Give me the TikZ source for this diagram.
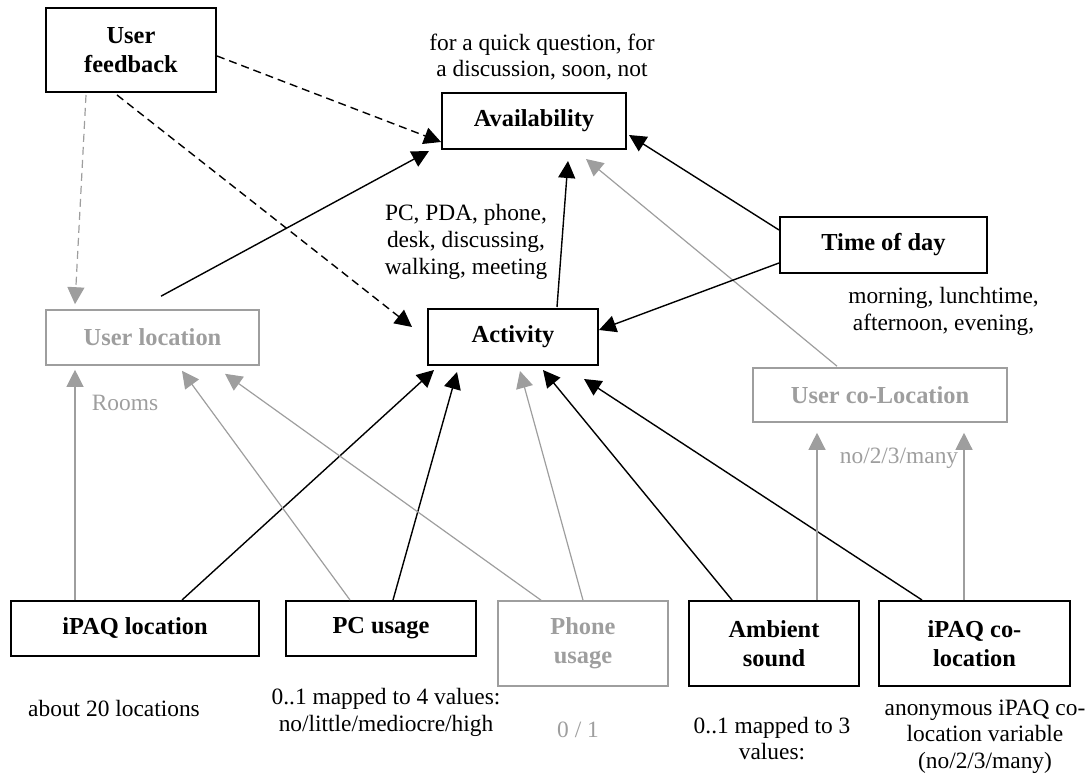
\documentclass[tikz,border=0pt]{standalone}
\usepackage{fontspec}
\setmainfont{Liberation Serif}
\usetikzlibrary{arrows.meta,calc}
\definecolor{lgray}{RGB}{158,158,158}
\tikzset{
  var/.style={draw, line width=1pt, inner sep=0pt, align=center,
    font=\bfseries\fontsize{12.2}{14.5}\selectfont},
  hidvar/.style={var, draw=lgray, text=lgray, line width=0.8pt},
  vals/.style={align=center, inner sep=0pt, font=\fontsize{11.7}{13.3}\selectfont},
  dep/.style={-{Triangle[length=8.5pt,width=8.5pt]}, line width=0.7pt},
  hiddep/.style={dep, draw=lgray, line width=0.6pt},
  fbdep/.style={dash pattern=on 4pt off 2.5pt}
}
\begin{document}
\begin{tikzpicture}[x=0.5pt,y=-0.5pt]
\useasboundingbox (0,0) rectangle (1090,774);

% variables
\node[var, minimum width=85pt, minimum height=42pt] (fb) at (131,50) {User\\feedback};
\node[var, minimum width=92pt, minimum height=28pt] (avail) at (534,121) {Availability};
\node[var, minimum width=103.5pt, minimum height=28pt] (tod) at (883.5,245) {Time of day};
\node[var, minimum width=85pt, minimum height=28pt] (act) at (513,337) {Activity};
\node[hidvar, minimum width=106.5pt, minimum height=27.5pt] (uloc) at (152.5,337.5) {User location};
\node[hidvar, minimum width=127pt, minimum height=27pt] (ucol) at (880,395) {User co-Location};
\node[var, minimum width=124pt, minimum height=27.5pt] (ipaq) at (135,628.5) {iPAQ location};
\node[var, minimum width=95pt, minimum height=27.5pt] (pc) at (381,628.5) {PC usage};
\node[hidvar, minimum width=85pt, minimum height=42.5pt] (phone) at (583,643.5) {Phone\\usage};
\node[var, minimum width=85pt, minimum height=42.5pt] (amb) at (774,643.5) {Ambient\\sound};
\node[var, minimum width=95.5pt, minimum height=42.5pt] (ico) at (974.5,643.5) {iPAQ co-\\location};

% value ranges
\node[vals] (availv) at (542,57) {for a quick question, for\\a discussion, soon, not};
\node[vals] (actv) at (466,242) {PC, PDA, phone,\\desk, discussing,\\walking, meeting};
\node[vals] (todv) at (943.5,311.5) {morning, lunchtime,\\afternoon, evening,};
\node[vals, text=lgray] (ulocv) at (125,403) {Rooms};
\node[vals, text=lgray] (ucolv) at (899,458) {no/2/3/many};
\node[vals] (ipaqv) at (114,708) {about 20 locations};
\node[vals] (pcv) at (386,712.5) {0..1 mapped to 4 values:\\no/little/mediocre/high};
\node[vals, text=lgray] (phonev) at (578,730) {0 / 1};
\node[vals] (ambv) at (772,738.5) {0..1 mapped to 3\\values:};
\node[vals] (icov) at (985,736.5) {anonymous iPAQ co-\\location variable\\(no/2/3/many)};

% feedback
\draw[dep, fbdep] ($(fb.east)+(0,6)$) -- ($(avail.west)+(0,21)$);
\draw[dep, fbdep] ($(fb.south)+(-14,2)$) -- ($(act.west)+(-15,-10)$);
\draw[hiddep, fbdep] ($(fb.south)+(-45,2)$) -- ($(uloc.north)+(-77.5,-5)$);

% into availability
\draw[dep] ($(uloc.north)+(8.5,-13)$) -- ($(avail.south west)+(-12,1)$);
\draw[dep] ($(act.north)+(44,-1)$) -- ($(avail.south)+(34,11)$);
\draw[dep] ($(tod.west)+(0,-15)$) -- ($(avail.east)+(2,14)$);
\draw[hiddep] ($(ucol.north)+(-43,-1)$) -- ($(avail.south)+(52,9)$);

% into activity
\draw[dep] ($(tod.west)+(0,18)$) -- ($(act.east)+(0,-7)$);
\draw[dep] ($(ipaq.north)+(47,0)$) -- ($(act.south)+(-79,4)$);
\draw[dep] ($(pc.north)+(12,0)$) -- ($(act.south)+(-56,6)$);
\draw[hiddep] (phone.north) -- ($(act.south)+(7,5)$);
\draw[dep] ($(amb.north)+(-42,0)$) -- ($(act.south)+(30,4)$);
\draw[dep] ($(ico.north)+(-52.5,0)$) -- ($(act.south)+(71,13)$);

% into user location
\draw[hiddep] ($(ipaq.north)+(-60,0)$) -- ($(uloc.south)+(-77.5,4)$);
\draw[hiddep] ($(pc.north)+(-31,0)$) -- ($(uloc.south)+(29.5,5)$);
\draw[hiddep] ($(phone.north)+(-42,0)$) -- ($(uloc.south)+(72.5,8)$);

% into user co-location
\draw[hiddep] ($(amb.north)+(43,0)$) -- ($(ucol.south)+(-63,10)$);
\draw[hiddep] ($(ico.north)+(-10.5,0)$) -- ($(ucol.south)+(84,10)$);

\end{tikzpicture}
\end{document}
